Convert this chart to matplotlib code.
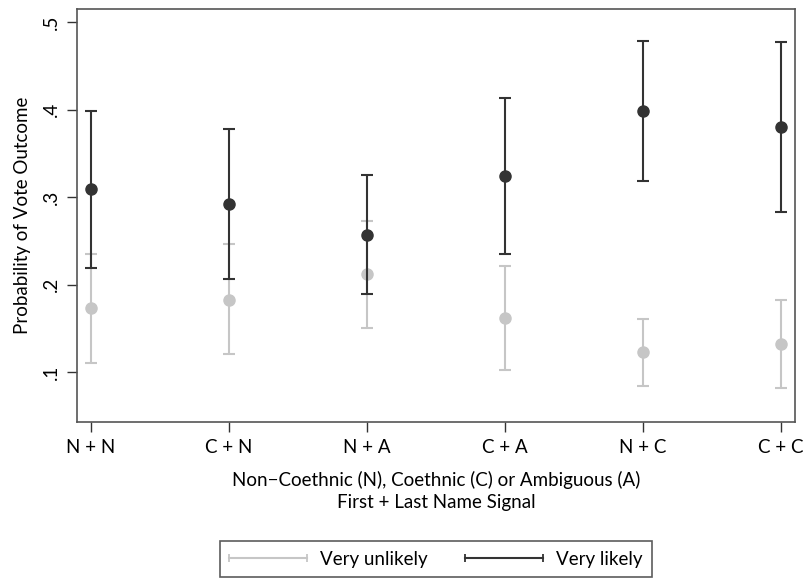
import numpy as np
import matplotlib
matplotlib.use("Agg")
import matplotlib.pyplot as plt
from matplotlib.lines import Line2D
from matplotlib.legend_handler import HandlerLine2D

plt.rcParams['font.family'] = ['Lato', 'DejaVu Sans']

# categories on the x axis
cats = ['N + N', 'C + N', 'N + A', 'C + A', 'N + C', 'C + C']

# "Very unlikely" estimates with CI bounds
unl_est = [0.173, 0.183, 0.212, 0.162, 0.123, 0.132]
unl_lo = [0.110, 0.121, 0.151, 0.103, 0.084, 0.082]
unl_hi = [0.235, 0.246, 0.273, 0.221, 0.161, 0.182]

# "Very likely" estimates with CI bounds
lik_est = [0.309, 0.292, 0.257, 0.324, 0.399, 0.380]
lik_lo = [0.219, 0.207, 0.189, 0.235, 0.319, 0.283]
lik_hi = [0.398, 0.378, 0.325, 0.413, 0.479, 0.477]

light = '#c6c6c6'
dark = '#333333'
fs = 13.5

fig = plt.figure(figsize=(8.04, 5.79), dpi=100)
ax = fig.add_axes([77/804, 1 - 422/579, (795-77)/804, (422-9)/579])

x = np.arange(len(cats))

def draw(est, lo, hi, col, z):
    est = np.array(est); lo = np.array(lo); hi = np.array(hi)
    ax.errorbar(x, est, yerr=[est - lo, hi - est], fmt='none', ecolor=col,
                elinewidth=1.5, capsize=4, capthick=1.5, zorder=z)
    ax.plot(x, est, 'o', color=col, markersize=8, zorder=z + 0.5)

draw(unl_est, unl_lo, unl_hi, light, 2)
draw(lik_est, lik_lo, lik_hi, dark, 4)

ax.set_xlim(-0.1, 5.1)
ax.set_ylim(0.043, 0.515)
ax.set_xticks(x)
ax.set_xticklabels(cats, fontsize=fs)
ax.set_yticks([0.1, 0.2, 0.3, 0.4, 0.5])
ax.set_yticklabels(['.1', '.2', '.3', '.4', '.5'], fontsize=fs, rotation=90, va='center')
ax.tick_params(direction='out', length=7, width=1, color='#333333', pad=5)
for s in ax.spines.values():
    s.set_color('#555555')
    s.set_linewidth(1.2)

ax.set_ylabel('Probability of Vote Outcome', fontsize=fs, labelpad=9)
ax.set_xlabel('Non\u2212Coethnic (N), Coethnic (C) or Ambiguous (A)\nFirst + Last Name Signal',
              fontsize=fs, labelpad=11, linespacing=1.35)

handles = [Line2D([], [], color=light, lw=1.5, marker='|', markersize=6, markeredgewidth=1.3),
           Line2D([], [], color=dark, lw=1.5, marker='|', markersize=6, markeredgewidth=1.3)]
hm = {h: HandlerLine2D(marker_pad=0) for h in handles}
leg = fig.legend(handles, ['Very unlikely', 'Very likely'], loc='lower center',
                 bbox_to_anchor=(436/804, 0.0), ncol=2, numpoints=2, fontsize=fs,
                 frameon=True, fancybox=False, edgecolor='#333333', handlelength=4.16,
                 columnspacing=2.0, borderpad=0.5, handletextpad=0.7, borderaxespad=0.1,
                 handler_map=hm)
leg.get_frame().set_linewidth(1.2)

fig.savefig('out.png', dpi=100)
